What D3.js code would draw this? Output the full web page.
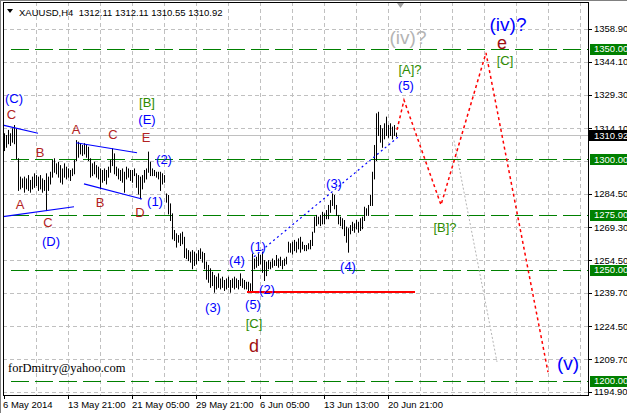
<!DOCTYPE html>
<html><head><meta charset="utf-8">
<script src="https://cdn.jsdelivr.net/npm/d3@7"></script>
<style>
body{margin:0;background:#fff}
svg{display:block}
text{font-family:"Liberation Sans",Arial,sans-serif}
</style>
</head><body>
<svg id="c" width="627" height="413"></svg>
<script>
// ---------- DATA ----------
const highs = [
1311.8,1311.0,1313.3,1311.8,1314.0,1315.5,1314.0,1300.5,1292.2,1291.4,
1292.2,1291.4,1292.9,1290.7,1292.2,1293.7,1292.9,1292.2,1292.9,1291.4,
1290.7,1293.7,1292.2,1294.4,1299.7,1300.5,1298.2,1298.9,1297.4,1295.9,
1298.2,1296.7,1295.9,1295.2,1295.9,1299.7,1308.7,1308.0,1307.3,1306.5,
1307.3,1306.5,1305.7,1300.5,1298.2,1298.9,1297.4,1296.7,1295.9,1295.2,
1295.9,1295.2,1296.7,1299.7,1305.0,1302.7,1296.7,1295.9,1295.2,1295.9,
1294.4,1296.7,1295.9,1295.2,1295.2,1295.9,1293.7,1292.9,1292.2,1292.9,
1295.2,1295.9,1303.5,1298.9,1295.9,1295.2,1294.4,1294.4,1294.4,1293.7,
1292.9,1284.6,1283.9,1280.1,1275.6,1268.1,1266.6,1265.8,1266.6,1267.3,
1265.0,1259.8,1259.0,1258.3,1259.0,1258.3,1257.5,1259.0,1259.8,1258.3,
1257.7,1253.8,1252.3,1250.8,1249.2,1247.7,1247.0,1248.5,1246.2,1247.0,
1245.5,1246.2,1247.0,1245.5,1246.2,1247.0,1246.2,1245.5,1248.5,1246.2,
1245.5,1244.7,1244.7,1244.0,1257.5,1255.2,1256.0,1257.5,1256.8,1258.3,
1254.5,1253.8,1254.5,1253.8,1255.2,1254.5,1256.8,1255.2,1256.0,1254.5,
1255.2,1256.0,1262.8,1262.1,1262.8,1263.6,1262.8,1264.3,1265.0,1262.8,
1261.3,1261.3,1262.1,1263.6,1267.3,1274.1,1274.9,1274.1,1274.9,1276.3,
1275.6,1277.1,1279.4,1281.6,1284.6,1283.9,1279.4,1274.9,1274.1,1273.4,
1272.6,1269.6,1268.9,1270.3,1271.8,1271.1,1272.6,1271.8,1273.4,1274.1,
1278.6,1277.9,1279.4,1283.9,1294.4,1306.5,1320.8,1321.5,1315.5,1314.0,
1316.3,1319.3,1315.5,1316.3,1314.8,1315.5,1312.11
];
const lows = [
1304.2,1305.7,1307.3,1306.5,1308.0,1307.3,1300.5,1286.2,1286.9,1287.6,
1285.4,1286.9,1286.2,1285.4,1286.9,1287.6,1288.4,1286.2,1286.9,1285.4,
1286.2,1277.1,1286.2,1289.1,1292.2,1294.4,1293.7,1292.2,1289.9,1289.1,
1292.2,1291.4,1292.2,1290.7,1292.9,1293.7,1299.7,1301.2,1302.7,1302.0,
1302.7,1301.2,1299.7,1292.2,1292.9,1293.7,1292.2,1291.4,1286.9,1289.9,
1290.7,1289.1,1292.2,1294.4,1297.4,1293.7,1292.9,1291.4,1290.7,1289.9,
1285.4,1291.4,1292.2,1290.7,1289.9,1292.9,1287.6,1284.6,1282.4,1286.9,
1289.9,1291.4,1294.4,1292.9,1292.9,1292.9,1292.2,1291.4,1286.2,1289.1,
1289.9,1280.9,1275.6,1272.6,1264.3,1263.6,1260.6,1262.8,1261.3,1262.1,
1255.9,1255.4,1254.5,1253.8,1250.8,1252.3,1253.0,1254.5,1255.4,1253.8,
1250.8,1246.1,1244.7,1242.4,1243.2,1240.2,1241.7,1242.4,1241.7,1242.4,
1241.0,1241.7,1242.4,1240.2,1242.4,1241.7,1242.4,1241.7,1243.2,1242.4,
1241.7,1241.7,1240.9,1240.9,1240.2,1250.8,1251.5,1252.3,1253.0,1249.2,
1245.5,1247.7,1250.8,1250.8,1251.5,1252.3,1252.3,1251.5,1252.3,1250.8,
1252.3,1253.0,1258.3,1258.3,1257.5,1259.0,1258.3,1259.8,1258.3,1259.8,
1259.0,1259.0,1259.8,1259.8,1261.3,1267.3,1270.3,1271.1,1270.3,1271.1,
1271.1,1273.4,1273.4,1276.3,1279.4,1277.9,1274.9,1271.1,1270.3,1268.9,
1265.8,1262.8,1258.3,1266.6,1268.1,1267.3,1268.9,1267.3,1268.1,1268.9,
1272.6,1274.9,1274.9,1279.4,1279.4,1291.4,1299.7,1311.0,1308.0,1305.7,
1309.5,1311.0,1310.2,1311.0,1309.5,1311.0,1310.55
];
const priceTicks = [1358.9,1344.1,1329.3,1314.1,1284.5,1269.3,1254.5,1239.7,1224.5,1209.7,1194.9];
const gridPrices = [1358.9,1344.1,1329.3,1314.1,1299.3,1284.5,1269.3,1254.5,1239.7,1224.5,1209.7,1194.9];
const levels = [1350,1300,1275,1250,1200];
const timeLabels = ["6 May 2014","13 May 21:00","21 May 05:00","29 May 21:00","6 Jun 05:00","13 Jun 13:00","20 Jun 21:00"];
const timeIdx = [0,32,64,96,128,160,192];
const lastPrice = 1310.92;
const headerText = "XAUUSD,H4  1312.11 1312.11 1310.55 1310.92";
const signature = "forDmitry@yahoo.com";
// trend lines [barIndex, price]
const blueLines = [
  [[-0.5,1315.5],[17,1311.8]],
  [[-0.5,1274.1],[35,1278.6]],
  [[36,1307.5],[66.5,1303.0]],
  [[40,1288.9],[69,1282.1]]
];
const blueDotted = [[125,1256.0],[198,1310.8]];
const redLine = [[121.5,1240.1],[205.5,1240.1]];
const redPath = [[196.5,1313.3],[200,1326.8],[218.5,1279.4],[241,1348.1],[272,1203.9]];
const grayPath = [[225,1308.5],[246.5,1208.5]];
// labels: text, barIndex, price, kind
const labels = [
  ["(C)",5,1327.4,"blue"],["C",3.75,1320.4,"brown"],["B",18,1303.3,"brown"],
  ["A",8,1279.8,"brown"],["C",22,1271.7,"brown"],["(D)",23.5,1263.1,"blue"],
  ["A",36,1313.7,"brown"],["C",54.5,1311.5,"brown"],["E",71,1310.1,"brown"],
  ["(E)",71.5,1318.2,"blue"],["[B]",71.5,1325.9,"green"],["(2)",80,1300.2,"blue"],
  ["B",48,1280.7,"brown"],["D",68,1276.2,"brown"],["(1)",75.5,1281.2,"blue"],
  ["(4)",116.5,1254.5,"blue"],["(3)",104.5,1233.3,"blue"],["(5)",124.5,1234.7,"blue"],
  ["(1)",127,1260.9,"blue"],["(2)",131.5,1241.4,"blue"],["(3)",165,1289.3,"blue"],
  ["(4)",172,1251.8,"blue"],["[C]",125,1226.1,"green"],["d",125,1216.1,"bigred"],
  ["(iv)?",202,1355.3,"biggray"],["[A]?",203,1340.8,"green"],["(5)",201,1333.6,"blue"],
  ["(iv)?",252,1360.9,"bigblue"],["e",249,1352.6,"bigred"],["[C]",250.5,1344.6,"green"],
  ["[B]?",220.5,1269.4,"green"],["(v)",282,1208.0,"bigblue"]
];
const styles = {
  blue:{c:"#0000ff",s:13}, brown:{c:"#b22222",s:13}, green:{c:"#2e8b00",s:13},
  bigred:{c:"#a01010",s:18}, biggray:{c:"#b4b4b4",s:19}, bigblue:{c:"#0000ff",s:19}
};

// ---------- CHART ----------
const svg = d3.select("#c");
const L=3, R=588, T=2, B=395;
const x = d3.scaleLinear().domain([0,292]).range([4,588]);
const y = d3.scaleLinear().domain([1194.9,1358.9]).range([392,29]);
const px = v => Math.round(v)+0.5;

const plot = svg.append("g");
// grid
plot.selectAll(".hg").data(gridPrices).join("line")
  .attr("x1",L).attr("x2",R).attr("y1",d=>px(y(d))).attr("y2",d=>px(y(d)))
  .attr("stroke","#c0c0c0").attr("stroke-dasharray","4,3");
const vgrid = d3.range(16,292,16);
plot.selectAll(".vg").data(vgrid).join("line")
  .attr("y1",T).attr("y2",B).attr("x1",d=>px(x(d))).attr("x2",d=>px(x(d)))
  .attr("stroke","#c0c0c0").attr("stroke-dasharray","4,3");
// levels
plot.selectAll(".lv").data(levels).join("line")
  .attr("x1",L+8).attr("x2",R).attr("y1",d=>px(y(d))).attr("y2",d=>px(y(d)))
  .attr("stroke","#008000").attr("stroke-dasharray","18,6");
// bid line
plot.append("line").attr("x1",L).attr("x2",R).attr("y1",px(y(lastPrice))).attr("y2",px(y(lastPrice)))
  .attr("stroke","#c0c0c0");
// bars
plot.selectAll(".bar").data(highs).join("line")
  .attr("x1",(d,i)=>px(x(i))).attr("x2",(d,i)=>px(x(i)))
  .attr("y1",d=>y(d)).attr("y2",(d,i)=>y(lows[i])+1)
  .attr("stroke","#000").attr("stroke-width",1);
// trend lines
const lineGen = d3.line().x(d=>x(d[0])).y(d=>y(d[1]));
plot.selectAll(".bl").data(blueLines).join("path").attr("d",lineGen)
  .attr("stroke","#0000ff").attr("fill","none").attr("stroke-width",1.2);
plot.append("path").attr("d",lineGen(blueDotted)).attr("stroke","#0000ff").attr("fill","none")
  .attr("stroke-dasharray","2,3").attr("stroke-width",1.2);
plot.append("path").attr("d",lineGen(redLine)).attr("stroke","#ff0000").attr("fill","none").attr("stroke-width",2);
plot.append("path").attr("d",lineGen(grayPath)).attr("stroke","#b4b4b4").attr("fill","none")
  .attr("stroke-dasharray","2,2").attr("stroke-width",1);
plot.append("path").attr("d",lineGen(redPath)).attr("stroke","#ff0000").attr("fill","none")
  .attr("stroke-dasharray","3,3").attr("stroke-width",1.5);
// labels
plot.selectAll(".lb").data(labels).join("text")
  .attr("x",d=>x(d[1])).attr("y",d=>y(d[2])).attr("dy","0.36em")
  .attr("text-anchor","middle")
  .attr("fill",d=>styles[d[3]].c).attr("font-size",d=>styles[d[3]].s)
  .text(d=>d[0]);
// signature
svg.append("text").attr("x",8).attr("y",372)
  .attr("font-size",12.5).style("font-family","'Liberation Serif','Times New Roman',serif").text(signature);
// header
svg.append("path").attr("d","M7,9 L13,9 L10,13 Z").attr("fill","#000");
svg.append("text").attr("x",19).attr("y",16).attr("font-size",9.5).attr("fill","#000")
  .attr("xml:space","preserve").style("white-space","pre").text(headerText);
// shift marker
svg.append("path").attr("d","M397,3 L404,3 L400.5,8 Z").attr("fill","#a0a0a0");
// frame
svg.append("rect").attr("x",L+0.5).attr("y",T+0.5).attr("width",R-L).attr("height",B-T)
  .attr("fill","none").attr("stroke","#000");
svg.append("line").attr("x1",0.5).attr("x2",0.5).attr("y1",0).attr("y2",413).attr("stroke","#808080");
svg.append("line").attr("x1",0).attr("x2",627).attr("y1",0.5).attr("y2",0.5).attr("stroke","#808080");
// right axis
const ax = svg.append("g");
ax.selectAll(".pt").data(priceTicks).join("line")
  .attr("x1",R+1).attr("x2",R+4).attr("y1",d=>px(y(d))).attr("y2",d=>px(y(d))).attr("stroke","#000");
ax.selectAll(".pl").data(priceTicks).join("text")
  .attr("x",594).attr("y",d=>y(d)).attr("dy","0.36em").attr("font-size",9.5).attr("fill","#000")
  .text(d=>d.toFixed(2));
ax.selectAll(".lvb").data(levels).join("rect")
  .attr("x",590).attr("y",d=>Math.round(y(d))-5).attr("width",37).attr("height",11).attr("fill","#008000");
ax.selectAll(".lvt").data(levels).join("text")
  .attr("x",594).attr("y",d=>y(d)).attr("dy","0.36em").attr("font-size",9.5).attr("fill","#fff")
  .text(d=>d.toFixed(2));
ax.append("rect").attr("x",589).attr("y",Math.round(y(lastPrice))-5).attr("width",38).attr("height",11).attr("fill","#000");
ax.append("text").attr("x",594).attr("y",y(lastPrice)).attr("dy","0.36em").attr("font-size",9.5).attr("fill","#fff")
  .text(lastPrice.toFixed(2));
// bottom axis
ax.selectAll(".tt").data(timeIdx).join("line")
  .attr("x1",d=>px(x(d))).attr("x2",d=>px(x(d))).attr("y1",B).attr("y2",B+4).attr("stroke","#000");
ax.selectAll(".tl").data(timeIdx).join("text")
  .attr("x",(d,i)=>i===0?3:x(d)).attr("y",408).attr("font-size",9.5).attr("fill","#000")
  .text((d,i)=>timeLabels[i]);
</script>
</body></html>
